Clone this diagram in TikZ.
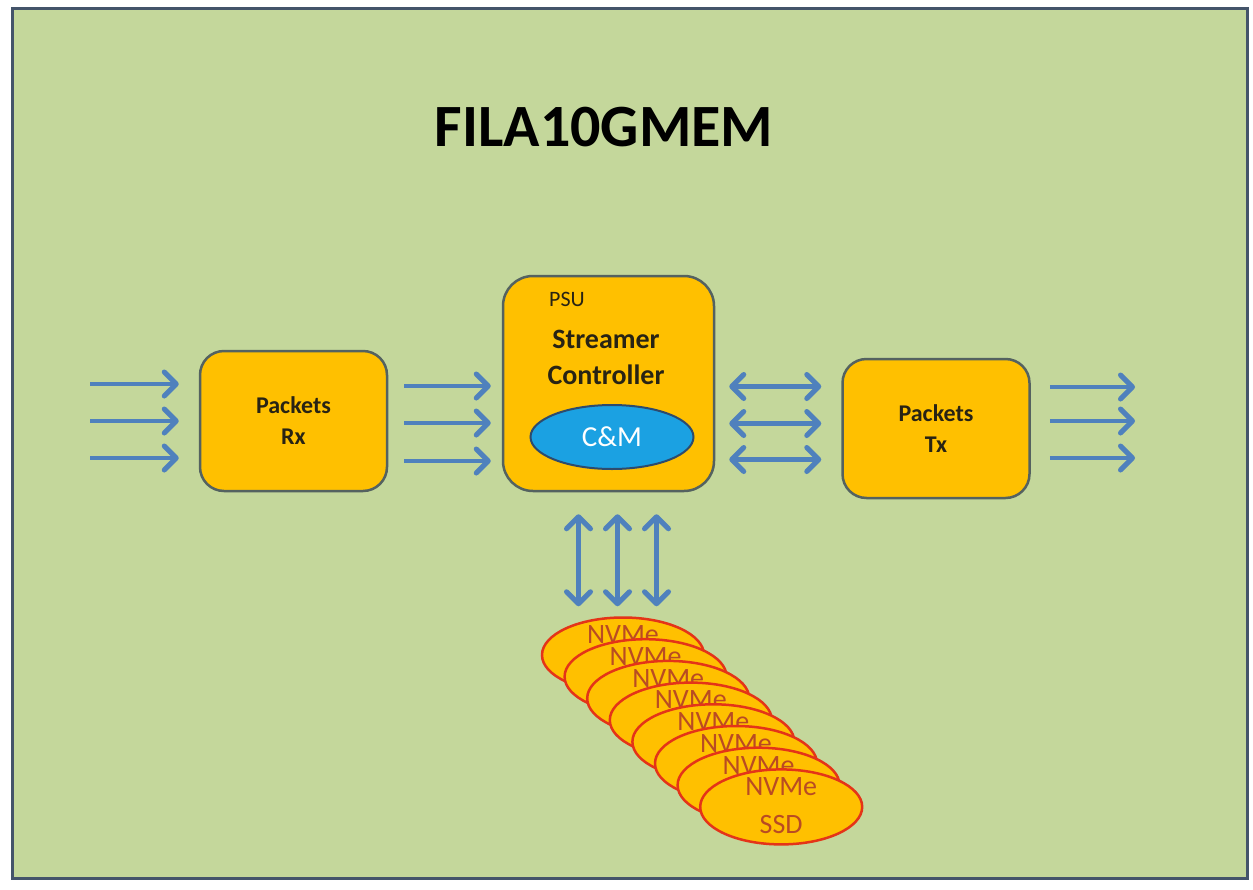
\documentclass[tikz,border=0pt]{standalone}
\usepackage{fontspec}
\setmainfont{Carlito}
\usetikzlibrary{positioning,shapes.geometric,arrows.meta,calc}

\definecolor{bggreen}{RGB}{196,215,155}
\definecolor{frameblue}{RGB}{68,84,106}
\definecolor{amber}{RGB}{255,192,0}
\definecolor{boxline}{RGB}{84,98,96}
\definecolor{textdark}{RGB}{40,35,20}
\definecolor{flowblue}{RGB}{79,129,189}
\definecolor{cmblue}{RGB}{27,161,226}
\definecolor{cmline}{RGB}{45,75,110}
\definecolor{diskred}{RGB}{228,52,24}
\definecolor{disktext}{RGB}{185,75,35}

\begin{document}
\begin{tikzpicture}[
    x=1pt, y=-1pt,
    box/.style={rectangle, draw=boxline, line width=2.5pt, fill=amber, rounded corners=24pt, align=center, text=textdark, font=\fontsize{24}{31}\selectfont\bfseries},
    barb/.tip={Straight Barb[length=12pt,width=24pt,line width=5pt,round]},
    flow/.style={draw=flowblue, line width=4.5pt, -{barb}},
    both/.style={flow, {barb}-{barb}},
    disk/.style={ellipse, draw=diskred, line width=2.5pt, fill=amber, minimum width=162pt, minimum height=75pt, inner sep=0pt},
    disklabel/.style={text=disktext, font=\fontsize{28}{30}\selectfont, inner sep=1pt}
]
    \useasboundingbox (0,0) rectangle (1253,889);
    % Background
    \draw[fill=bggreen, draw=frameblue, line width=3pt] (12,8) rectangle (1247,878);
    \node[font=\fontsize{60}{62}\selectfont\bfseries, text=black] (title) at (604,127) {FILA10GMEM};
    % Receiver
    \node[box, minimum width=187pt, minimum height=140pt] (rx) at (293.5,421) {Packets\\Rx};
    % Streamer
    \node[box, rounded corners=30pt, minimum width=211pt, minimum height=215pt] (psu) at (608.5,383.5) {};
    \node[text=textdark, font=\fontsize{22}{24}\selectfont] (psulabel) at (567,299) {PSU};
    \node[align=center, text=textdark, font=\fontsize{28}{36}\selectfont\bfseries] (streamer) at (606,357) {Streamer\\Controller};
    \node[ellipse, draw=cmline, line width=2pt, fill=cmblue, text=white, minimum width=163pt, minimum height=64pt, inner sep=0pt, font=\fontsize{29}{30}\selectfont] (cm) at (612,437) {C\&M};
    % Transmitter
    \node[box, minimum width=187pt, minimum height=139pt, right=126pt of psu, yshift=-45pt] (tx) {Packets\\Tx};
    % NVMe disks
    \foreach \i in {1,...,8} {
        \node[disk] (nvme\i) at ({623+22.6*(\i-1)},{655+21.7*(\i-1)}) {};
        \node[disklabel] (name\i) at ($(nvme\i)+(0,-20)$) {NVMe};
    }
    \node[disklabel] (ssd) at ($(nvme8)+(0,18)$) {SSD};
    % Arrows
    \foreach \y [count=\i] in {384,421,458} {
        \coordinate (in\i) at (90,\y);
        \draw[flow] (in\i) -- ($(rx.west |- in\i)+(-20,0)$);
    }
    \foreach \dy in {-35,2,40}
        \draw[flow] ($(rx.east)+(16,\dy)$) -- ($(rx.east -| psu.west)+(-11,\dy)$);
    \foreach \dy in {-42,-5,31}
        \draw[both] ($(tx.west -| psu.east)+(14,\dy)$) -- ($(tx.west)+(-20,\dy)$);
    \foreach \y [count=\i] in {387,421,458} {
        \coordinate (out\i) at (1135,\y);
        \draw[flow] ($(tx.east |- out\i)+(19,0)$) -- (out\i);
    }
    \foreach \dx in {-30,9,48}
        \draw[both] ($(psu.south)+(\dx,22)$) -- ($(psu.south |- nvme1.north)+(\dx,-10)$);
\end{tikzpicture}
\end{document}
